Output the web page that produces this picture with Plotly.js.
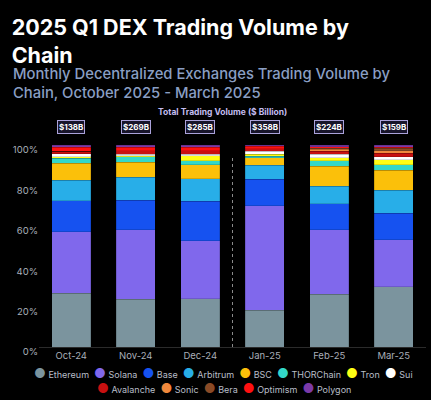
<!DOCTYPE html>
<html>
<head>
<meta charset="utf-8">
<script src="https://cdn.plot.ly/plotly-3.0.1.min.js"></script>
<style>html,body{margin:0;padding:0;background:#000;}</style>
</head>
<body>
<div id="chart" style="width:431px;height:400px;"></div>
<script>
const months = ["Oct-24", "Nov-24", "Dec-24", "Jan-25", "Feb-25", "Mar-25"];
const totals = [138, 269, 285, 358, 224, 159];
const yTickVals = [0, 20, 40, 60, 80, 100];
const yTickText = ["0%", "20%", "40%", "60%", "80%", "100%"];

const chains = ["Ethereum", "Solana", "Base", "Arbitrum", "BSC", "THORChain", "Tron", "Sui",
                "Avalanche", "Sonic", "Bera", "Optimism", "Polygon"];
const colors = ["#7b949e", "#8068ec", "#1652f0", "#28aee8", "#fbc00a", "#33d8c8", "#ffff14", "#ffffff",
                "#c81010", "#f0883c", "#8a4a26", "#ff1010", "#7b3aa8"];

const ethereum  = [26.7, 23.7, 24.0, 18.1, 26.0, 29.8];
const solana    = [30.4, 34.4, 28.6, 51.8, 32.1, 23.3];
const base      = [15.3, 14.6, 19.6, 13.1, 12.8, 13.2];
const arbitrum  = [10.2, 11.3, 11.1, 6.9, 8.8, 11.2];
const bsc       = [8.4, 7.5, 6.9, 3.9, 9.8, 9.9];
const thorchain = [2.5, 2.8, 2.1, 0.7, 2.6, 2.8];
const tron      = [0.8, 0.5, 2.5, 1.0, 1.7, 2.4];
const sui       = [1.3, 0.7, 0.7, 1.3, 1.7, 1.7];
const avalanche = [1.2, 1.6, 1.6, 1.3, 1.3, 1.6];
const sonic     = [0, 0, 0, 0, 1.0, 1.2];
const bera      = [0, 0, 0, 0, 0.6, 1.3];
const optimism  = [2.1, 1.8, 1.8, 1.3, 0.7, 0.6];
const polygon   = [1.1, 1.1, 1.1, 0.6, 0.9, 0.9];

const series = [ethereum, solana, base, arbitrum, bsc, thorchain, tron, sui,
                avalanche, sonic, bera, optimism, polygon];

const FONT = "Inter, 'Noto Sans', 'DejaVu Sans', sans-serif";

const traces = chains.map((name, i) => ({
  type: "bar",
  name: name,
  x: months,
  y: series[i],
  marker: {color: colors[i], line: {width: 0.4, color: "rgba(0,0,0,0.35)"}},
  showlegend: false,
  hoverinfo: "name+y"
}));

const annotations = [];

// subtitle
annotations.push({
  xref: "paper", yref: "paper", x: 0, xshift: -28, y: 1, yshift: 62,
  xanchor: "left", yanchor: "middle", align: "left", showarrow: false,
  text: "Monthly Decentralized Exchanges Trading Volume by<br>Chain, October 2025 - March 2025",
  font: {family: FONT, size: 14.8, color: "#8a9fc4", weight: 500}
});

// "Total Trading Volume" header
annotations.push({
  xref: "paper", yref: "paper", x: 0.473, y: 1, yshift: 33,
  xanchor: "center", yanchor: "middle", showarrow: false,
  text: "<b>Total Trading Volume ($ Billion)</b>",
  font: {family: FONT, size: 8.5, color: "#c4bdf0"}
});

// total boxes
months.forEach((m, i) => {
  annotations.push({
    xref: "x", yref: "paper", x: m, y: 1, yshift: 18,
    xanchor: "center", yanchor: "middle", showarrow: false,
    text: "<b>$" + totals[i] + "B</b>",
    font: {family: FONT, size: 8, color: "#ffffff"},
    bgcolor: "#17142a", bordercolor: "#aaa2da", borderwidth: 1, borderpad: 1
  });
});

// legend rows built from chain names and colors
const NB = "\u00a0";
function legendRow(idxs) {
  return idxs.map(i =>
    '<span style="color:' + colors[i] + ';font-size:13px">\u25CF</span>' + NB + chains[i]
  ).join(NB + NB);
}
annotations.push({
  xref: "paper", yref: "paper", x: 0.478, y: 0, yshift: -26,
  xanchor: "center", yanchor: "middle", showarrow: false,
  text: legendRow([0,1,2,3,4,5,6,7]),
  font: {family: FONT, size: 9, color: "#b8bec8"}
});
annotations.push({
  xref: "paper", yref: "paper", x: 0.478, y: 0, yshift: -40.5,
  xanchor: "center", yanchor: "middle", showarrow: false,
  text: legendRow([8,9,10,11,12]),
  font: {family: FONT, size: 9, color: "#b8bec8"}
});

const layout = {
  width: 431, height: 400,
  paper_bgcolor: "#000000", plot_bgcolor: "#000000",
  margin: {l: 39, r: 5, t: 145, b: 53, pad: 0},
  barmode: "stack",
  bargap: 0.395,
  showlegend: false,
  title: {
    text: "<b>2025 Q1 DEX Trading Volume by<br>Chain</b>",
    x: 0.027, xref: "container", xanchor: "left",
    y: 0.913, yref: "container", yanchor: "middle",
    font: {family: FONT, size: 21.5, color: "#ffffff"}
  },
  xaxis: {
    type: "category",
    showgrid: false, zeroline: false,
    showline: true, linecolor: "#2b2b2b", linewidth: 1,
    ticks: "", tickfont: {family: FONT, size: 9.5, color: "#a8aeb8"},
    fixedrange: true
  },
  yaxis: {
    range: [0, 100],
    tickmode: "array",
    tickvals: yTickVals,
    ticktext: yTickText,
    showgrid: false, zeroline: false, showline: false,
    ticks: "", ticklabelshift: 5,
    tickfont: {family: FONT, size: 9.5, color: "#a8aeb8"},
    fixedrange: true
  },
  shapes: [{
    type: "line", xref: "x", yref: "y",
    x0: 2.5, x1: 2.5, y0: 0, y1: 94,
    line: {color: "#8a8a8a", width: 1, dash: "dot"}
  }],
  annotations: annotations
};

Plotly.newPlot("chart", traces, layout, {displayModeBar: false, staticPlot: true});
</script>
</body>
</html>
